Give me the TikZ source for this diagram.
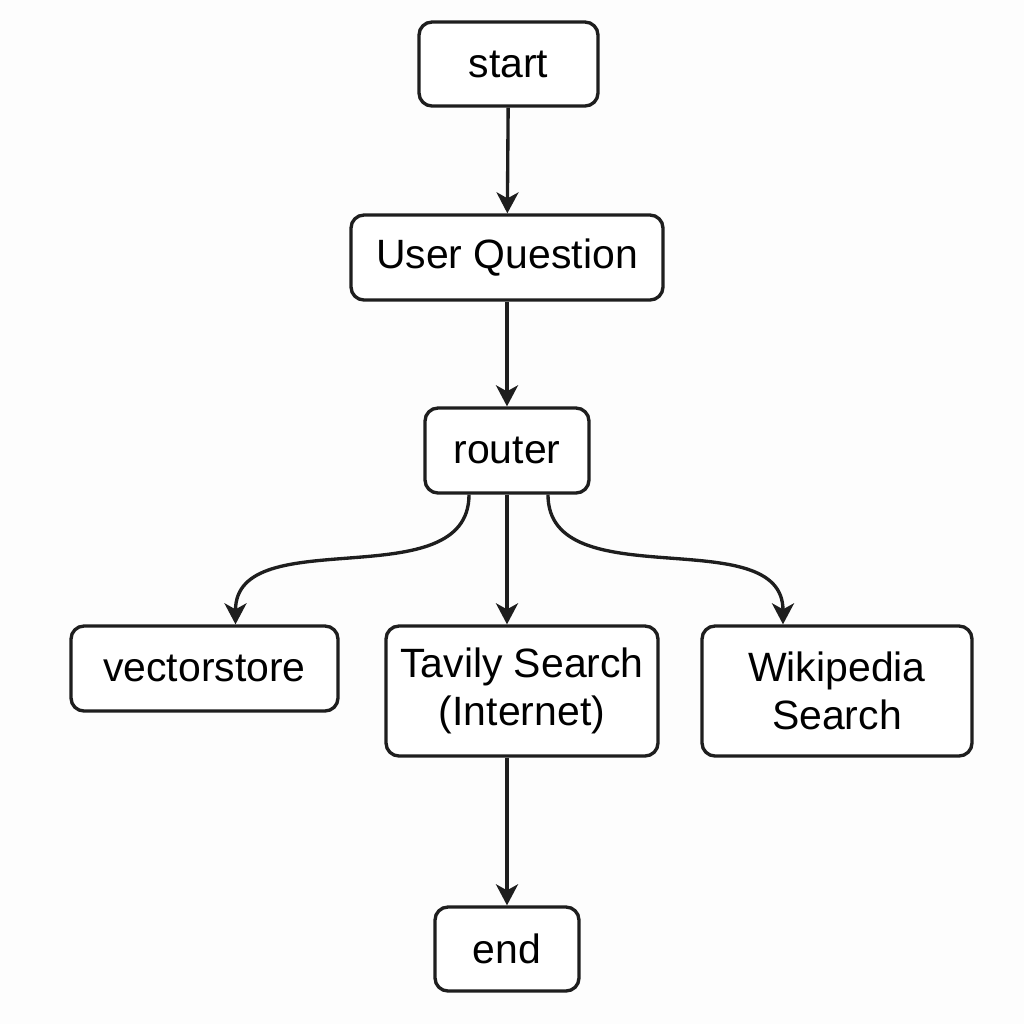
\documentclass[tikz,border=0pt]{standalone}
\usepackage{fontspec}
\setmainfont{Liberation Sans}
\usepackage{tikz}
\usetikzlibrary{
    arrows.meta,
    calc,
    positioning
}
\definecolor{ink}{RGB}{30,30,30}
\definecolor{paper}{RGB}{253,253,253}

\begin{document}
\begin{tikzpicture}[
    flowbox/.style={draw=ink, line width=1.9pt, rounded corners=0.26cm, fill=white,
        align=center, inner sep=0pt, text=black,
        font=\fontsize{23.3}{27}\selectfont},
    flowarrow/.style={draw=ink, line width=1.9pt,
        -{Stealth[length=0.42cm, width=0.44cm, inset=0.12cm]}}
]
    % Background
    \fill[paper] (0,0) rectangle (20.48,-20.48);
    \useasboundingbox (0,0) rectangle (20.48,-20.48);

    % Nodes
    \node[flowbox, minimum width=3.58cm, minimum height=1.68cm] (start) at (10.17,-1.28) {start};
    \node[flowbox, minimum width=6.24cm, minimum height=1.70cm] (question) at (10.14,-5.15) {User Question};
    \node[flowbox, minimum width=3.28cm, minimum height=1.70cm] (router) at (10.14,-9.01) {router};
    \node[flowbox, minimum width=5.34cm, minimum height=1.70cm] (vectorstore) at (4.09,-13.37) {vectorstore};
    \node[flowbox, minimum width=5.44cm, minimum height=2.60cm] (tavily) at (10.44,-13.82) {Tavily Search\\(Internet)};
    \node[flowbox, minimum width=5.40cm, minimum height=2.60cm] (wikipedia) at (16.74,-13.82) {Wikipedia\\Search};
    \node[flowbox, minimum width=2.88cm, minimum height=1.68cm] (end) at (10.14,-18.98) {end};

    % Main line
    \draw[flowarrow] (start) -- (question);
    \draw[flowarrow] (question) -- (router);
    \draw[flowarrow] (router.south) -- (router.south |- tavily.north);
    \draw[flowarrow] (tavily.south -| end.north) -- (end.north);

    % Branches of the router
    \draw[flowarrow] ([xshift=-0.76cm]router.south) to[out=-90, in=90] ([xshift=0.62cm]vectorstore.north);
    \draw[flowarrow] ([xshift=0.82cm]router.south) to[out=-90, in=90] ([xshift=-1.08cm]wikipedia.north);
\end{tikzpicture}
\end{document}
